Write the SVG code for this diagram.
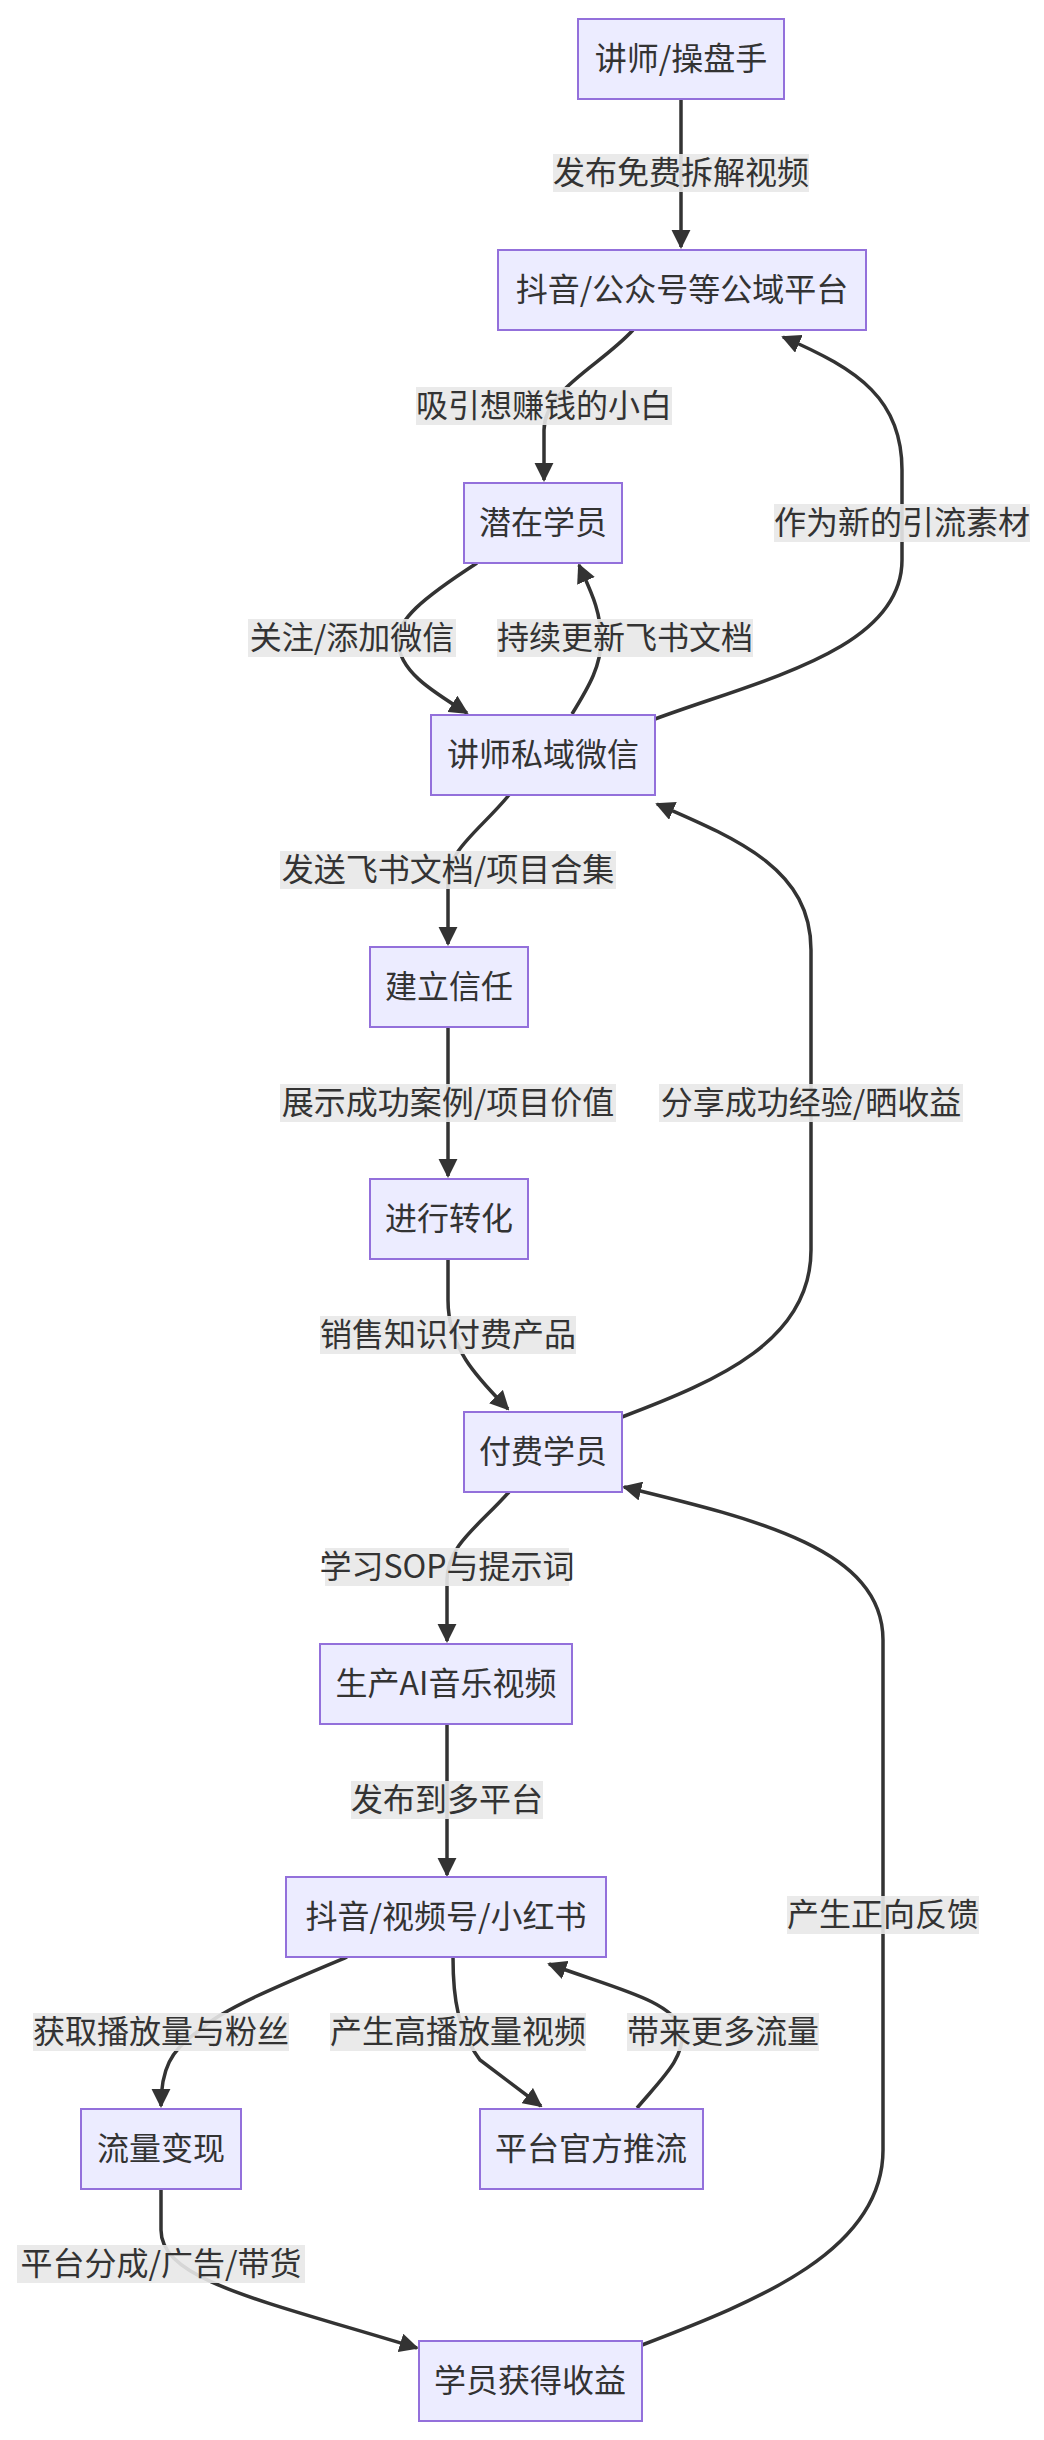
<svg xmlns="http://www.w3.org/2000/svg" width="1044" height="2440" viewBox="0 0 1044 2440">
<defs>
<marker id="ah" viewBox="0 0 10 10" refX="9" refY="5" markerWidth="5.5" markerHeight="5.5" orient="auto-start-reverse" markerUnits="strokeWidth"><path d="M0,0 L10,5 L0,10 z" fill="#333"/></marker>
<style>
.n rect{fill:#ECECFF;stroke:#9370DB;stroke-width:2}
text{font-family:"Noto Sans CJK SC","Noto Sans",sans-serif;font-size:32px;fill:#333;text-anchor:middle}
.e path{fill:none;stroke:#333;stroke-width:3.5;marker-end:url(#ah)}
.l rect{fill:#e8e8e8;opacity:0.9}
</style>
</defs>
<rect width="1044" height="2440" fill="#fff"/>
<g class="e">
<path d="M681,98 L681,247"/>
<path d="M633,330 C600,366 544,390 544,430 L544,480"/>
<path d="M655,719 C760,680 902,650 902,560 L902,470 C902,400 860,370 783,337"/>
<path d="M477,563 C420,600 398,620 398,640 C398,670 430,690 467,713"/>
<path d="M572,714 C590,685 601,665 601,640 C601,610 590,590 579,565"/>
<path d="M509,795 C480,830 448,850 448,880 L448,944"/>
<path d="M448,1027 L448,1176"/>
<path d="M448,1259 L448,1300 C448,1350 480,1380 508,1409"/>
<path d="M622,1417 C720,1380 811,1340 811,1250 L811,950 C811,870 740,840 657,804"/>
<path d="M509,1492 C480,1525 447,1545 447,1580 L447,1641"/>
<path d="M447,1724 L447,1875"/>
<path d="M642,2345 C760,2300 883,2250 883,2150 L883,1640 C883,1550 760,1520 624,1487"/>
<path d="M347,1957 C280,1985 220,2010 200,2030 C170,2050 161,2070 161,2106"/>
<path d="M453,1957 C453,2000 458,2030 480,2060 L541,2106"/>
<path d="M637,2108 C665,2075 683,2060 683,2030 C670,2000 620,1990 549,1964"/>
<path d="M161,2189 L161,2230 C161,2280 260,2300 417,2348"/>
</g>
<g class="l">
<rect x="553" y="154" width="256" height="38"/><text x="681" y="184">发布免费拆解视频</text>
<rect x="416" y="387" width="256" height="38"/><text x="544" y="417">吸引想赚钱的小白</text>
<rect x="774" y="504" width="256" height="38"/><text x="902" y="534">作为新的引流素材</text>
<rect x="248" y="619" width="208" height="38"/><text x="352" y="649">关注/添加微信</text>
<rect x="497" y="619" width="256" height="38"/><text x="625" y="649">持续更新飞书文档</text>
<rect x="280" y="851" width="336" height="38"/><text x="448" y="881">发送飞书文档/项目合集</text>
<rect x="280" y="1084" width="336" height="38"/><text x="448" y="1114">展示成功案例/项目价值</text>
<rect x="659" y="1084" width="304" height="38"/><text x="811" y="1114">分享成功经验/晒收益</text>
<rect x="320" y="1316" width="256" height="38"/><text x="448" y="1346">销售知识付费产品</text>
<rect x="325" y="1548" width="244" height="38"/><text x="447" y="1578">学习SOP与提示词</text>
<rect x="351" y="1781" width="192" height="38"/><text x="447" y="1811">发布到多平台</text>
<rect x="787" y="1896" width="192" height="38"/><text x="883" y="1926">产生正向反馈</text>
<rect x="33" y="2013" width="256" height="38"/><text x="161" y="2043">获取播放量与粉丝</text>
<rect x="330" y="2013" width="256" height="38"/><text x="458" y="2043">产生高播放量视频</text>
<rect x="627" y="2013" width="192" height="38"/><text x="723" y="2043">带来更多流量</text>
<rect x="17" y="2245" width="288" height="38"/><text x="161" y="2275">平台分成/广告/带货</text>
</g>
<g id="A" class="n"><rect x="578" y="19" width="206" height="80"/><text x="681" y="70">讲师/操盘手</text></g>
<g id="B" class="n"><rect x="498" y="250" width="368" height="80"/><text x="682" y="301">抖音/公众号等公域平台</text></g>
<g id="C" class="n"><rect x="464" y="483" width="158" height="80"/><text x="543" y="534">潜在学员</text></g>
<g id="D" class="n"><rect x="431" y="715" width="224" height="80"/><text x="543" y="766">讲师私域微信</text></g>
<g id="E" class="n"><rect x="370" y="947" width="158" height="80"/><text x="449" y="998">建立信任</text></g>
<g id="F" class="n"><rect x="370" y="1179" width="158" height="80"/><text x="449" y="1230">进行转化</text></g>
<g id="G" class="n"><rect x="464" y="1412" width="158" height="80"/><text x="543" y="1463">付费学员</text></g>
<g id="H" class="n"><rect x="320" y="1644" width="252" height="80"/><text x="446" y="1695">生产AI音乐视频</text></g>
<g id="I" class="n"><rect x="286" y="1877" width="320" height="80"/><text x="446" y="1928">抖音/视频号/小红书</text></g>
<g id="J" class="n"><rect x="81" y="2109" width="160" height="80"/><text x="161" y="2160">流量变现</text></g>
<g id="K" class="n"><rect x="480" y="2109" width="223" height="80"/><text x="591" y="2160">平台官方推流</text></g>
<g id="L" class="n"><rect x="419" y="2341" width="223" height="80"/><text x="530" y="2392">学员获得收益</text></g>
</svg>
